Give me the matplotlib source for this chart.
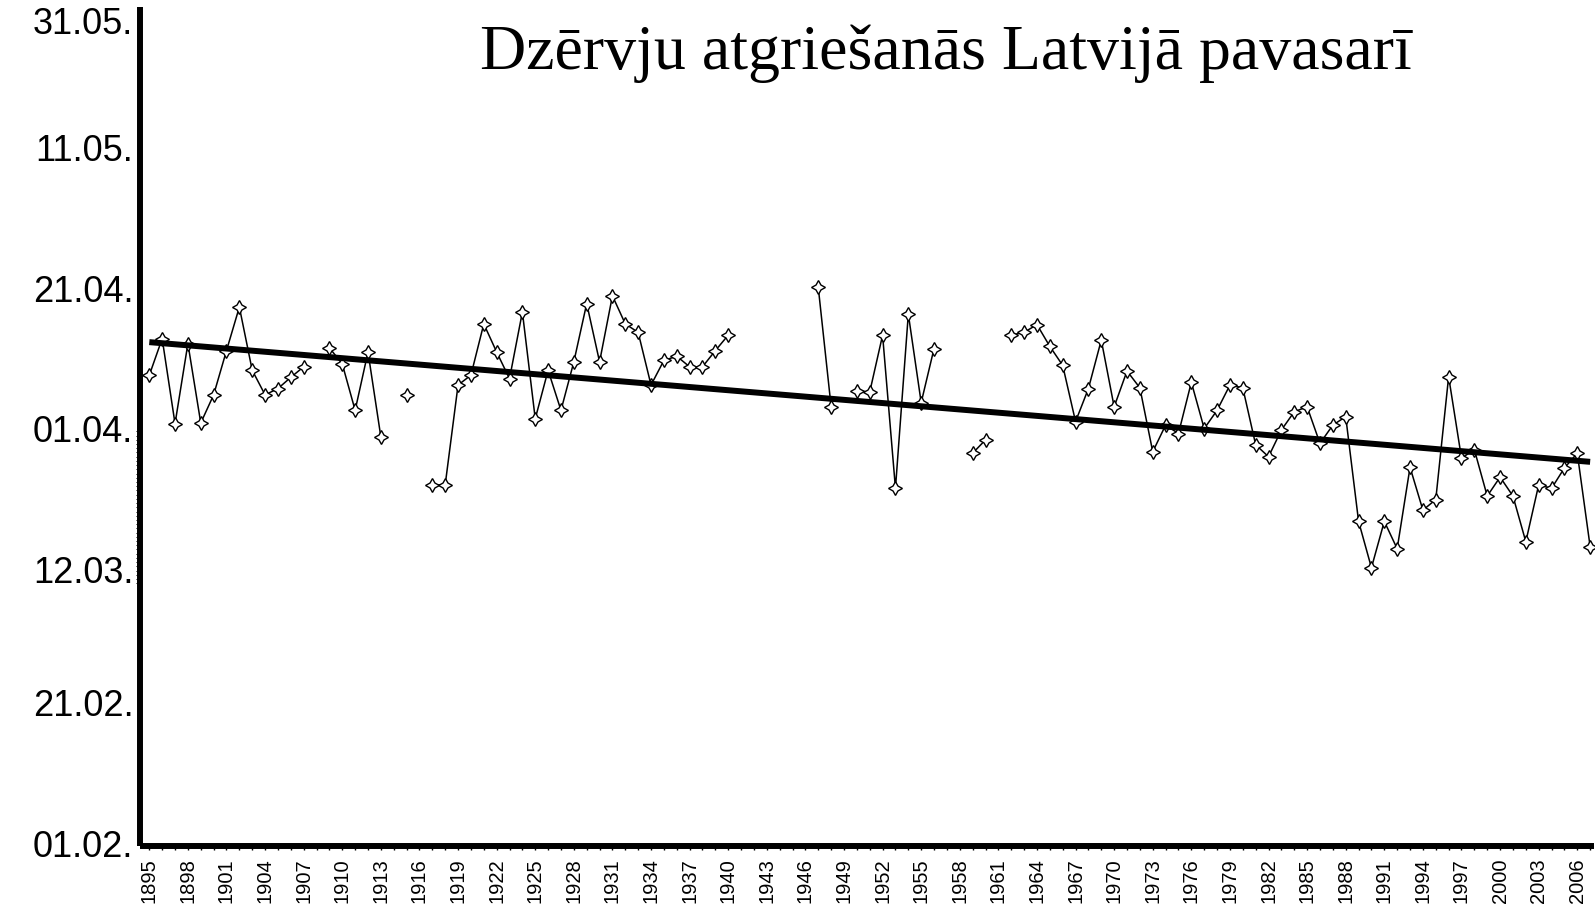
import numpy as np
import matplotlib
matplotlib.use("Agg")
import matplotlib.pyplot as plt

# Arrival day of year (1 Feb = 32, 1 Apr = 91), NaN = no observation
years = list(range(1895, 2008))
arrival_day = [
    98.6, 103.8, 91.7, 103.1, 91.8, 95.8, 102.1, 108.3, 99.3, 95.8,   # 1895-1904
    96.7, 98.3, 99.8, np.nan, 102.5, 100.2, 93.6, 101.9, 89.8, np.nan,  # 1905-1914
    95.8, np.nan, 83.0, 83.0, 97.2, 98.6, 105.9, 101.9, 98.1, 107.6,  # 1915-1924
    92.4, 99.3, 93.6, 100.5, 108.8, 100.5, 109.9, 105.9, 104.7, 97.2,  # 1925-1934
    100.7, 101.3, 99.8, 99.8, 102.1, 104.3, np.nan, np.nan, np.nan, np.nan,  # 1935-1944
    np.nan, np.nan, 111.1, 94.1, np.nan, 96.4, 96.2, 104.3, 82.5, 107.3,  # 1945-1954
    94.7, 102.4, np.nan, np.nan, 87.5, 89.4, np.nan, 104.3, 104.7, 105.8,  # 1955-1964
    102.7, 100.0, 92.0, 96.7, 103.6, 94.1, 99.2, 96.8, 87.7, 91.5,  # 1965-1974
    90.3, 97.6, 91.0, 93.6, 97.2, 96.8, 88.7, 87.0, 90.8, 93.4,  # 1975-1984
    94.1, 88.9, 91.5, 92.7, 77.8, 71.2, 77.8, 73.9, 85.5, 79.4,  # 1985-1994
    80.9, 98.4, 86.8, 88.0, 81.4, 84.1, 81.4, 74.9, 83.0, 82.5,  # 1995-2004
    85.4, 87.5, 74.2,  # 2005-2007
]

ytick_days = [32, 52, 71, 91, 111, 131, 151]
ytick_labels = ["01.02.", "21.02.", "12.03.", "01.04.", "21.04.", "11.05.", "31.05."]
xtick_years = list(range(1895, 2007, 3))

title = "Dzērvju atgriešanās Latvijā pavasarī"

x = np.array(years, dtype=float)
y = np.array(arrival_day, dtype=float)

fig = plt.figure(figsize=(15.96, 9.13), dpi=100)
ax = fig.add_axes([140.3 / 1596, 67 / 913, (1594 - 140.3) / 1596, (906 - 67) / 913])

# observations
ax.plot(x, y, color="black", lw=1.1, marker=(4, 1, 0), ms=10,
        mfc="white", mec="black", mew=1.0, zorder=3)

# linear trend
ok = ~np.isnan(y)
k, b = np.polyfit(x[ok], y[ok], 1)
xt = np.array([years[0], years[-1]], dtype=float)
ax.plot(xt, k * xt + b, color="black", lw=4.3, solid_capstyle="butt", zorder=4)

ax.set_xlim(1894.3, 2007.3)
ax.set_ylim(31.6, 151)

for s in ["top", "right"]:
    ax.spines[s].set_visible(False)
for s in ["left", "bottom"]:
    ax.spines[s].set_linewidth(4.3)
    ax.spines[s].set_capstyle("butt")

ax.set_yticks(ytick_days)
ax.set_yticklabels(ytick_labels, fontsize=26, family=["Liberation Sans", "DejaVu Sans"])
ax.tick_params(axis="y", which="major", length=0, pad=5)
ax.get_yticklabels()[-1].set_va("top")
# hatched bit on the left spine
ax.set_yticks(np.arange(69, 91, 0.6), minor=True)
ax.tick_params(axis="y", which="minor", length=3, width=0.7, color="black")

ax.set_xticks(xtick_years)
ax.set_xticklabels([str(v) for v in xtick_years], rotation=90, fontsize=14.5,
                   family=["Liberation Sans", "DejaVu Sans"])
ax.set_xticks(years, minor=True)
ax.tick_params(axis="x", which="both", length=3, width=1.0, pad=6)

fig.text(946 / 1596, 1 - 69 / 913, title, ha="center", va="baseline",
         fontsize=46, family=["Liberation Serif", "DejaVu Serif"])

fig.savefig("out.png", dpi=100, facecolor="white")
